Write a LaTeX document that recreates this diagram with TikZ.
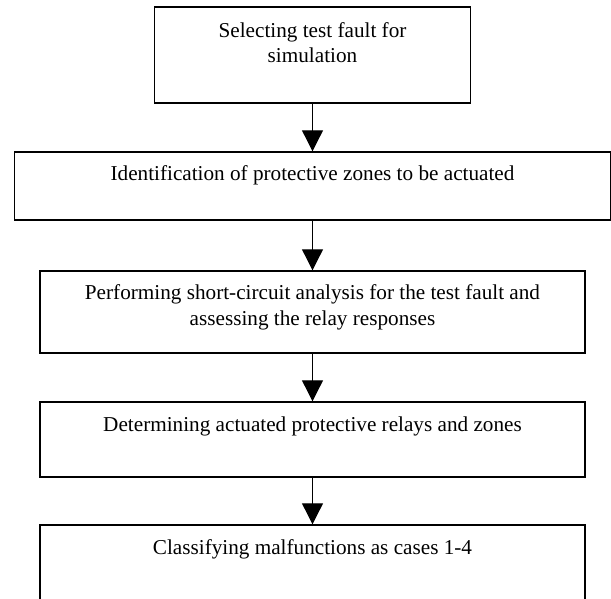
\documentclass[tikz,border=0pt]{standalone}
\usepackage{fontspec}
\setmainfont{Liberation Serif}
\usetikzlibrary{arrows.meta}
\tikzset{
  stepbox/.style={draw=black, line width=1.4pt, fill=none, inner sep=0pt},
  steptext/.style={inner sep=0pt, align=center, font=\fontsize{21.2}{25.5}\selectfont},
  flow/.style={draw=black, line width=1.1pt, -{Triangle[width=21pt,length=21pt]}}
}
\begin{document}
\begin{tikzpicture}[x=1pt,y=1pt]
\useasboundingbox (0,0) rectangle (611,-599);
\clip (0,0) rectangle (611,-599);
% boxes
\node[stepbox, minimum width=316pt, minimum height=96pt] (b1) at (312.5,-55) {};
\node[stepbox, minimum width=596pt, minimum height=68pt] (b2) at (312.5,-186) {};
\node[stepbox, minimum width=545pt, minimum height=82pt] (b3) at (312.5,-312) {};
\node[stepbox, minimum width=545pt, minimum height=75pt] (b4) at (312.5,-439.5) {};
\node[stepbox, minimum width=545pt, minimum height=90pt] (b5) at (312.5,-570) {};
% texts (base = baseline of the last line)
\node[steptext, anchor=base] (t1) at (312.5,-63) {Selecting test fault for\\simulation};
\node[steptext, anchor=base] (t2) at (312.5,-181) {Identification of protective zones to be actuated};
\node[steptext, anchor=base] (t3) at (312.5,-325) {Performing short-circuit analysis for the test fault and\\assessing the relay responses};
\node[steptext, anchor=base] (t4) at (312.5,-431) {Determining actuated protective relays and zones};
\node[steptext, anchor=base] (t5) at (312.5,-554) {Classifying malfunctions as cases 1-4};
% connectors
\draw[flow] (b1.south) -- (b2.north);
\draw[flow] (b2.south) -- (b3.north);
\draw[flow] (b3.south) -- (b4.north);
\draw[flow] (b4.south) -- (b5.north);
\end{tikzpicture}
\end{document}
